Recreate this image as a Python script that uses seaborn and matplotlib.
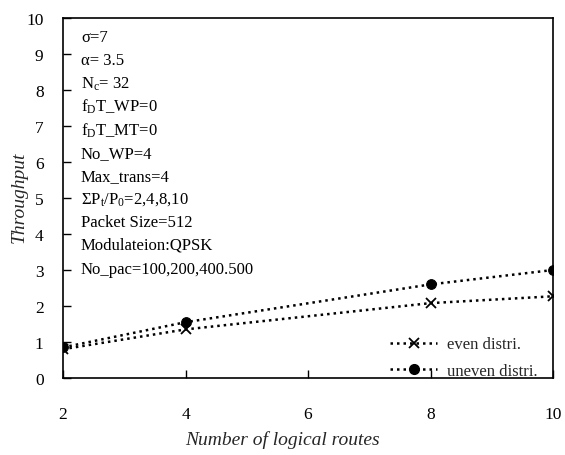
import matplotlib
matplotlib.use("Agg")
import matplotlib.pyplot as plt
import seaborn as sns
import pandas as pd

sns.set_style("ticks")
plt.rcParams['font.family'] = ['Liberation Serif', 'DejaVu Serif']
plt.rcParams['mathtext.fontset'] = 'custom'
plt.rcParams['mathtext.rm'] = 'Liberation Serif'
plt.rcParams['mathtext.it'] = 'Liberation Serif:italic'

routes = [2, 4, 8, 10]
even_distri = [0.80, 1.35, 2.08, 2.27]
uneven_distri = [0.85, 1.55, 2.60, 3.00]
series_labels = ["even distri.", "uneven distri."]
x_ticks = [2, 4, 6, 8, 10]
y_ticks = list(range(0, 11))
params = [
    "σ=7",
    "α= 3.5",
    "N$_{\\mathrm{c}}$= 32",
    "f$_{\\mathrm{D}}$T_WP=0",
    "f$_{\\mathrm{D}}$T_MT=0",
    "No_WP=4",
    "Max_trans=4",
    "ΣP$_{\\mathrm{t}}$/P$_{\\mathrm{0}}$=2,4,8,10",
    "Packet Size=512",
    "Modulateion:QPSK",
    "No_pac=100,200,400.500",
]
param_y_px = [38, 61, 84, 107, 131, 154, 177, 200, 223, 246, 270]

fig = plt.figure(figsize=(5.65, 4.56), dpi=100)
L, R, T, B = 63, 553, 19, 379
ax = fig.add_axes([L / 565, (456 - B) / 456, (R - L) / 565, (B - T) / 456])

dot = (0, (1, 1.6))
lw = 1.8
sns.lineplot(x=routes, y=even_distri, color="black", linestyle=dot, linewidth=lw,
             marker="x", markersize=7, markeredgewidth=1.3,
             markeredgecolor="black", ax=ax,
             label=series_labels[0], legend=False)
sns.lineplot(x=routes, y=uneven_distri, color="black", linestyle=dot, linewidth=lw,
             marker="o", markersize=7, markeredgecolor="black",
             markerfacecolor="black", ax=ax,
             label=series_labels[1], legend=False)

handles = [
    plt.Line2D([], [], color="black", linestyle=dot, linewidth=lw,
               marker="x", markersize=7, markeredgewidth=1.3),
    plt.Line2D([], [], color="black", linestyle=dot, linewidth=lw,
               marker="o", markersize=7),
]
ax.legend(handles, series_labels, loc="lower right", bbox_to_anchor=(0.982, -0.022),
          frameon=False, fontsize=12, handlelength=2.8, handletextpad=0.6,
          labelspacing=0.65, borderaxespad=0)

ax.set_xlim(2, 10)
ax.set_ylim(0, 10)
ax.set_xticks(x_ticks)
ax.set_yticks(y_ticks)
ax.tick_params(axis="both", direction="in", length=6, width=1, labelsize=12.5,
               colors="black")
ax.tick_params(axis="x", pad=20)
ax.tick_params(axis="y", pad=14)
for s in ax.spines.values():
    s.set_visible(True)
    s.set_color("black")
    s.set_linewidth(1.2)

ax.set_xlabel("Number of logical routes", fontsize=14, style="italic")
ax.set_ylabel("Throughput", fontsize=14, style="italic")
ax.xaxis.set_label_coords((282 - L) / (R - L), (B - 431) / (B - T))
ax.yaxis.set_label_coords((28 - L) / (R - L), (B - 197) / (B - T))

for txt, yp in zip(params, param_y_px):
    ax.text((81 - L) / (R - L), (B - yp) / (B - T), txt, transform=ax.transAxes,
            fontsize=12, va="center", ha="left", color="black")

fig.savefig("out.png", dpi=100)
